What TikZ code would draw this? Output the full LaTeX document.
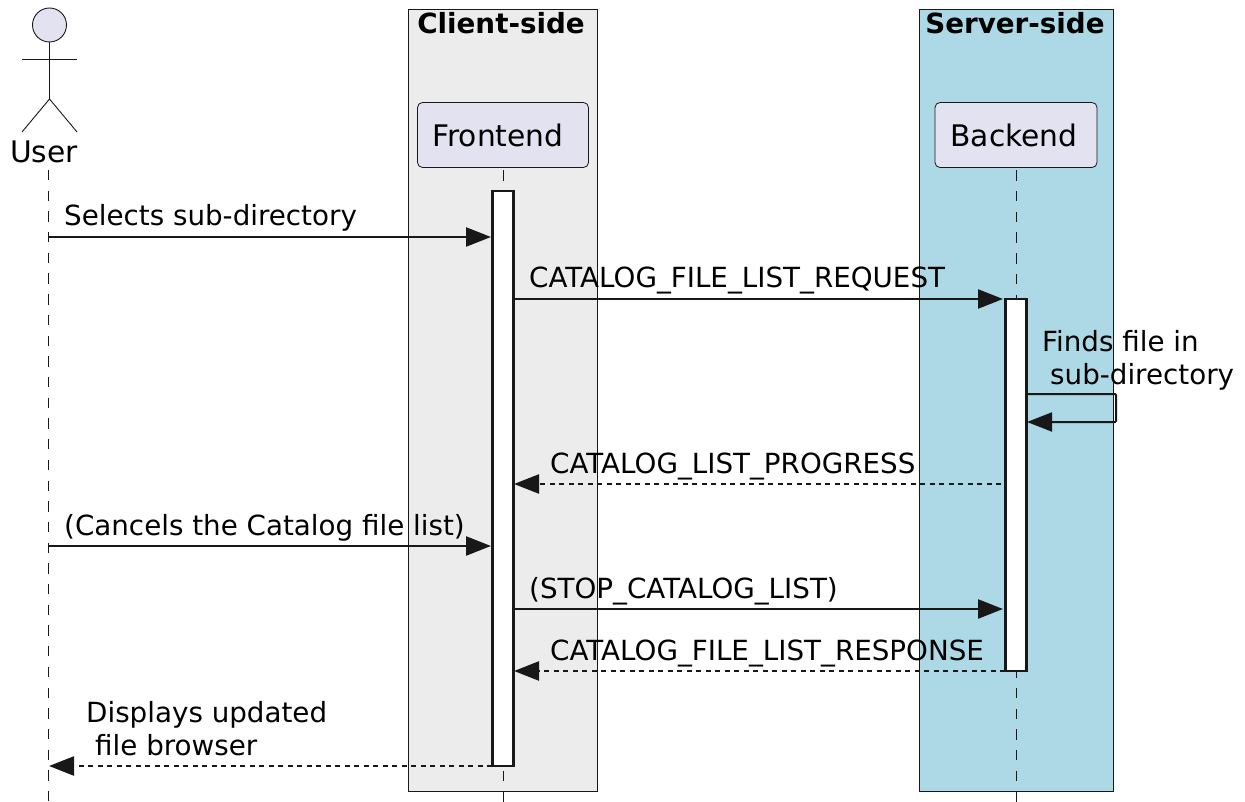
\documentclass[tikz,border=0pt]{standalone}
\usepackage{fontspec}
\setmainfont{DejaVu Sans}
\usetikzlibrary{arrows.meta, positioning, calc}
\definecolor{linegray}{HTML}{181818}
\definecolor{partblue}{HTML}{E2E2F0}
\definecolor{clientgray}{HTML}{ECECEC}
\definecolor{serverblue}{HTML}{ADD8E6}
\newcommand{\callarrow}[2]
{
	\draw[call] (#1) -- (#2)
}
\newcommand{\replyarrow}[2]
{
	\draw[call, reply] (#1) -- (#2)
}
\tikzset{
	call/.style={draw=linegray, line width=2.4pt, -{Triangle[length=25pt, width=19pt, color=linegray]}, shorten >=0pt},
	reply/.style={dash pattern=on 5pt off 4.5pt},
	msg/.style={anchor=base west, inner sep=0pt, font=\fontsize{27.75}{33}\selectfont, align=left},
	part/.style={draw=linegray, line width=0.8pt, fill=partblue, rounded corners=5pt, minimum height=65pt, inner sep=0pt, font=\fontsize{29.7}{34}\selectfont},
	side/.style={draw=linegray, line width=0.8pt, minimum height=782pt, inner sep=0pt},
	sidetitle/.style={anchor=base, inner sep=0pt, font=\fontsize{27.75}{33}\selectfont\bfseries},
	lifeline/.style={draw=linegray, line width=0.8pt, dash pattern=on 10.35pt off 10.35pt},
	actbar/.style={draw=linegray, line width=2.4pt, fill=white, minimum width=21pt, inner sep=0pt, outer sep=0pt},
	stick/.style={draw=linegray, line width=0.9pt}
}
\begin{document}
\begin{tikzpicture}[x=1pt, y=-1pt]
	\useasboundingbox (0,0) rectangle (1245,802);

	\node[side, fill=clientgray, minimum width=189pt] (ClientSide) at (503,400) {};
	\node[side, fill=serverblue, minimum width=194pt] (ServerSide) at (1016,400) {};
	\node[sidetitle] (ClientTitle) at (501,34) {Client-side};
	\node[sidetitle] (ServerTitle) at (1015,34) {Server-side};

	% user
	\node[circle, stick, fill=partblue, minimum size=34pt, inner sep=0pt] (UserHead) at (49.5,25) {};
	\coordinate (ArmL) at (22,59);
	\coordinate (ArmR) at (77,59);
	\coordinate (Hip) at (49.5,99);
	\coordinate (LegL) at (22,132);
	\coordinate (LegR) at (77,132);
	\draw[stick] (UserHead.south) -- (Hip);
	\draw[stick] (ArmL) -- (ArmR);
	\draw[stick] (LegL) -- (Hip) -- (LegR);
	\node[anchor=base, inner sep=0pt, font=\fontsize{29.7}{34}\selectfont] (User) at (44,163) {User};

	\node[part, minimum width=171pt] (Frontend) at (503,135) {Frontend\kern10pt};
	\node[part, minimum width=162pt] (Backend) at (1016,135) {Backend\kern4pt};

	% lifelines
	\coordinate (UserTop) at (48,170);
	\coordinate (UserEnd) at (48,802);
	\coordinate (FrontendEnd) at (503,802);
	\coordinate (BackendEnd) at (1016,802);
	\draw[lifeline] (UserTop) -- (UserEnd);
	\draw[lifeline, shorten <=2.5pt] (Frontend.south) -- (FrontendEnd);
	\draw[lifeline, shorten <=2.5pt] (Backend.south) -- (BackendEnd);

	\node[actbar, minimum height=575pt] (FrontendBar) at (503,478.5) {};
	\node[actbar, minimum height=372pt] (BackendBar) at (1016,485) {};

	% messages
	\coordinate (A1) at (48,237);
	\coordinate (B1) at (491,237);
	\coordinate (A2) at (514,299);
	\coordinate (B2) at (1003,299);
	\coordinate (A3) at (1027,394);
	\coordinate (C3) at (1116,394);
	\coordinate (D3) at (1116,422);
	\coordinate (B3) at (1027,422);
	\coordinate (A4) at (1001,484);
	\coordinate (B4) at (514,484);
	\coordinate (A5) at (48,546);
	\coordinate (B5) at (491,546);
	\coordinate (A6) at (514,609);
	\coordinate (B6) at (1003,609);
	\coordinate (A7) at (1005,671);
	\coordinate (B7) at (514,671);
	\coordinate (A8) at (492,766);
	\coordinate (B8) at (49,766);

	\callarrow{A1}{B1};
	\callarrow{A2}{B2};
	\draw[call, line width=2pt, rounded corners=1pt] (A3) -- (C3) -- (D3) -- (B3);
	\replyarrow{A4}{B4};
	\callarrow{A5}{B5};
	\callarrow{A6}{B6};
	\replyarrow{A7}{B7};
	\replyarrow{A8}{B8};

	\node[msg] (M1) at (64,226) {Selects sub-directory};
	\node[msg] (M2) at (529,288) {CATALOG\_FILE\_LIST\_REQUEST};
	\node[msg, anchor=north west] (M3) at (1042,330) {Finds file in\\\hspace*{8pt}sub-directory};
	\node[msg] (M4) at (550,473) {CATALOG\_LIST\_PROGRESS};
	\node[msg] (M5) at (64,535) {(Cancels the Catalog file list)};
	\node[msg] (M6) at (529,598) {(STOP\_CATALOG\_LIST)};
	\node[msg] (M7) at (550,660) {CATALOG\_FILE\_LIST\_RESPONSE};
	\node[msg, anchor=north west] (M8) at (86,701) {Displays updated\\\hspace*{9pt}file browser};
\end{tikzpicture}
\end{document}
